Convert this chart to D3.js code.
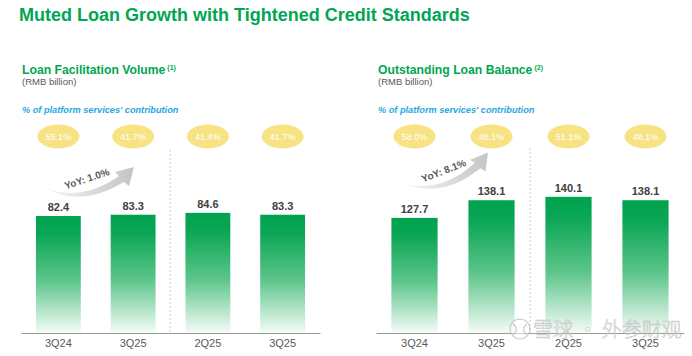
<!DOCTYPE html>
<html><head><meta charset="utf-8">
<script src="https://cdn.jsdelivr.net/npm/d3@7"></script>
<style>
html,body{margin:0;padding:0;background:#fff;}
svg{display:block;font-family:"Liberation Sans",Arial,sans-serif;}
</style></head>
<body>
<svg id="c" width="692" height="356"></svg>
<script>
const categories = ["3Q24", "3Q25", "2Q25", "3Q25"];
const facilitationValues = [82.4, 83.3, 84.6, 83.3];
const facilitationShare = ["55.1%", "41.7%", "41.4%", "41.7%"];
const balanceValues = [127.7, 138.1, 140.1, 138.1];
const balanceShare = ["58.0%", "48.1%", "51.1%", "48.1%"];
const yoyLabels = ["YoY: 1.0%", "YoY: 8.1%"];
const chartTitles = ["Loan Facilitation Volume", "Outstanding Loan Balance"];
const footnotes = ["(1)", "(2)"];

const GREEN = "#00a651";
const svg = d3.select("#c");
const defs = svg.append("defs");
const bg = defs.append("linearGradient").attr("id", "barGrad").attr("x1", 0).attr("y1", 0).attr("x2", 0).attr("y2", 1);
bg.append("stop").attr("offset", "0%").attr("stop-color", "#00a34e");
bg.append("stop").attr("offset", "15%").attr("stop-color", "#0aa655");
bg.append("stop").attr("offset", "55%").attr("stop-color", "#5cc58a");
bg.append("stop").attr("offset", "100%").attr("stop-color", "#f5fcf8");
const ag = defs.append("linearGradient").attr("id", "arrGrad").attr("x1", 0).attr("y1", 0).attr("x2", 1).attr("y2", 0);
ag.append("stop").attr("offset", "0%").attr("stop-color", "#f6f6f6");
ag.append("stop").attr("offset", "100%").attr("stop-color", "#c4c4c4");

svg.append("text").attr("x", 19).attr("y", 21)
  .attr("font-size", 18).attr("font-weight", "bold").attr("fill", GREEN)
  .text("Muted Loan Growth with Tightened Credit Standards");

const panels = [
  {x0: 22, range: [21, 320], values: facilitationValues, share: facilitationShare,
   y: d3.scaleLinear().domain([0, 100]).range([333, 191]), sep: 170, sepTop: 150,
   title: chartTitles[0], note: footnotes[0], yoy: yoyLabels[0], yoyPos: [88, 182, -18],
   arrowT: "translate(0,0)"},
  {x0: 378, range: [376, 684], values: balanceValues, share: balanceShare,
   y: d3.scaleLinear().domain([60, 160]).range([333, 163]), sep: 530, sepTop: 148,
   title: chartTitles[1], note: footnotes[1], yoy: yoyLabels[1], yoyPos: [445, 174, -21],
   arrowT: "translate(405,184) rotate(-7.5) scale(0.97) translate(-45,-188)"}
];

panels.forEach(p => {
  const g = svg.append("g");
  const t = g.append("text").attr("x", p.x0).attr("y", 74).attr("font-size", 12.2)
    .attr("font-weight", "bold").attr("fill", GREEN).text(p.title);
  t.append("tspan").attr("dx", 2).attr("dy", -4).attr("font-size", 7).text(p.note);
  g.append("text").attr("x", p.x0).attr("y", 85).attr("font-size", 9.5).attr("fill", "#595959").text("(RMB billion)");
  g.append("text").attr("x", p.x0).attr("y", 113).attr("font-size", 9.2).attr("font-weight", "bold")
    .attr("font-style", "italic").attr("fill", "#27a8e0").text("% of platform services' contribution");

  const x = d3.scaleBand().domain(d3.range(categories.length)).range(p.range).paddingInner(0.4).paddingOuter(0.2);

  // separator
  g.append("line").attr("x1", p.sep).attr("x2", p.sep).attr("y1", p.sepTop).attr("y2", 333)
    .attr("stroke", "#c8c8c8").attr("stroke-width", 1).attr("stroke-dasharray", "2,2");

  // ellipses
  const el = g.selectAll(".el").data(p.share).join("g")
    .attr("transform", (d, i) => `translate(${x(i) + x.bandwidth() / 2},136.5)`);
  el.append("ellipse").attr("rx", 21).attr("ry", 12).attr("fill", "#f7e384");
  el.append("text").attr("text-anchor", "middle").attr("y", 3.2).attr("font-size", 9)
    .attr("fill", "#ffffff").text(d => d);

  // bars
  g.selectAll(".bar").data(p.values).join("rect")
    .attr("x", (d, i) => x(i)).attr("width", x.bandwidth())
    .attr("y", d => p.y(d)).attr("height", d => p.y.range()[0] - p.y(d))
    .attr("fill", "url(#barGrad)");
  g.selectAll(".val").data(p.values).join("text")
    .attr("x", (d, i) => x(i) + x.bandwidth() / 2).attr("y", d => p.y(d) - 5)
    .attr("text-anchor", "middle").attr("font-size", 11).attr("font-weight", "bold")
    .attr("fill", "#404040").text(d => d.toFixed(1));

  // axis
  const ax = g.append("g").attr("transform", "translate(0,333)")
    .call(d3.axisBottom(x).tickSize(0).tickPadding(6).tickFormat(i => categories[i]));
  ax.select(".domain").attr("stroke", "#9a9a9a").attr("stroke-width", 1);
  ax.selectAll("text").attr("font-size", 11).attr("fill", "#595959")
    .attr("font-family", "'Liberation Sans',Arial,sans-serif");

  // arrow
  g.append("path").attr("transform", p.arrowT)
    .attr("d", "M45,188 Q82,208 124,182 L129,186 L134,167 L115,172 L119,176 Q82,202 45,188 Z")
    .attr("fill", "url(#arrGrad)");
  g.append("text").attr("transform", `translate(${p.yoyPos[0]},${p.yoyPos[1]}) rotate(${p.yoyPos[2]})`)
    .attr("text-anchor", "middle").attr("font-size", 10).attr("font-weight", "bold")
    .attr("fill", "#595959").text(p.yoy);
});

// watermark
const wm = svg.append("g").attr("opacity", 0.8);
wm.append("circle").attr("cx", 520).attr("cy", 329).attr("r", 10)
  .attr("fill", "#fff").attr("fill-opacity", 0.6).attr("stroke", "#bdbdbd").attr("stroke-width", 1.1);
wm.append("path").attr("d", "M513,324 Q520,329 513,335 M527,324 Q520,329 527,335")
  .attr("fill", "none").attr("stroke", "#bdbdbd").attr("stroke-width", 1.1);
wm.append("text").attr("x", 533).attr("y", 337).attr("font-size", 20)
  .attr("font-family", "'Noto Sans CJK SC',sans-serif").attr("font-weight", 300)
  .attr("fill", "#ffffff").attr("fill-opacity", 0.7).attr("stroke", "#bdbdbd").attr("stroke-width", 0.6)
  .text("雪球 · 外参财观");
</script>
</body></html>
